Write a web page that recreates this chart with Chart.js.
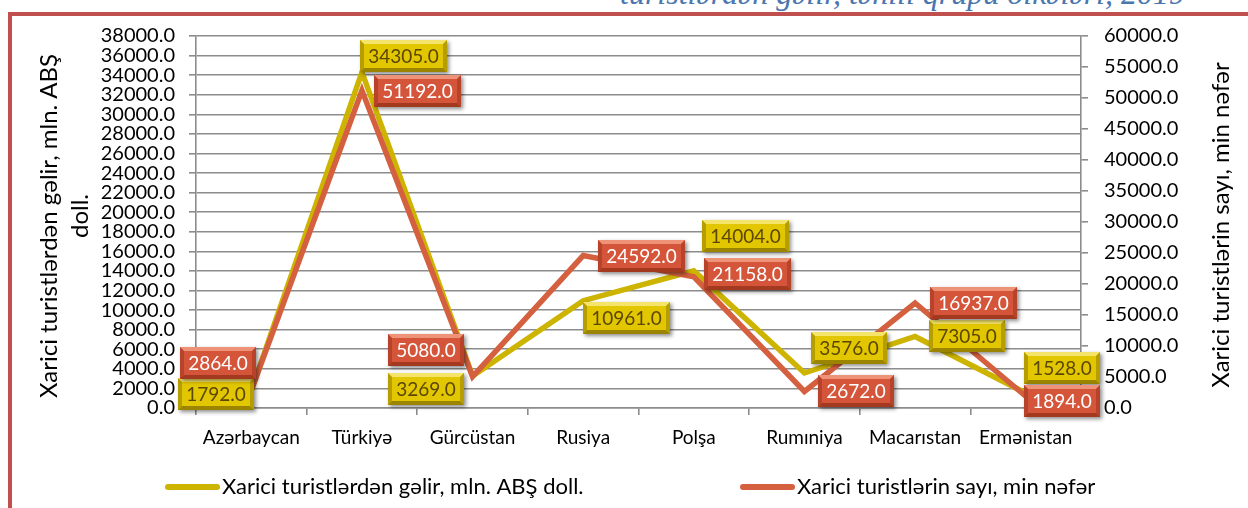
<!DOCTYPE html>
<html>
<head>
<meta charset="utf-8">
<script src="https://cdn.jsdelivr.net/npm/chart.js@4.4.0/dist/chart.umd.min.js"></script>
<style>
    html, body { margin: 0; padding: 0; background: #fff; }
    body { width: 1248px; height: 508px; position: relative; overflow: hidden; }
    .header {
        position: absolute; right: 63px; top: -23px;
        font: italic 32px "Liberation Serif", serif; line-height: 1;
        color: #4a76b0; white-space: nowrap;
    }
    .frame {
        position: absolute; left: 8px; top: 12px; right: -10px; bottom: -10px;
        border-left: 4px solid #c0504d; border-top: 4px solid #c0504d;
    }
    #chart { position: absolute; left: 0; top: 0; }
</style>
</head>
<body>
<div class="header">turistlərdən gəlir, təhlil qrupu ölkələri, 2019</div>
<div class="frame"></div>
<canvas id="chart" width="1248" height="508"></canvas>
<script>
const categories = ['Azərbaycan', 'Türkiyə', 'Gürcüstan', 'Rusiya', 'Polşa', 'Rumıniya', 'Macarıstan', 'Ermənistan'];
const revenue = [1792.0, 34305.0, 3269.0, 10961.0, 14004.0, 3576.0, 7305.0, 1528.0];
const tourists = [2864.0, 51192.0, 5080.0, 24592.0, 21158.0, 2672.0, 16937.0, 1894.0];
const revenueLabel = 'Xarici turistlərdən gəlir, mln. ABŞ doll.';
const touristsLabel = 'Xarici turistlərin sayı, min nəfər';
const leftTitle = ['Xarici turistlərdən gəlir, mln. ABŞ', 'doll.'];
const rightTitle = 'Xarici turistlərin sayı, min nəfər';
const leftMax = 38000, leftStep = 2000;
const rightMax = 60000, rightStep = 5000;

// where each value box sits, relative to its point
const revenueOffsets = [[-35, 4], [42, -16], [-47, 13], [43, 17], [52, -35], [45, -25], [52, 0], [36, -25]];
const touristOffsets = [[-33, -27], [56, 0], [-47, -27], [58, 0], [54, -3], [52, 0], [58, 0], [36, 5]];

const YELLOW = '#ccb400';
const RED = '#d5603f';
const GRID = '#8c8c8c';
const FONT = 'Lato, "Open Sans", sans-serif';

const labelStyles = [
    { offsets: revenueOffsets, face: '#e2c600', light: '#f4e46a', dark: '#9a8400', text: '#5b4700' },
    { offsets: touristOffsets, face: '#d4553a', light: '#ee9278', dark: '#a3391f', text: '#ffffff' }
];

const boxLabels = {
    id: 'boxLabels',
    afterDatasetsDraw(chart) {
        const ctx = chart.ctx;
        chart.data.datasets.forEach((ds, di) => {
            const meta = chart.getDatasetMeta(di);
            const st = labelStyles[di];
            meta.data.forEach((pt, i) => {
                const txt = ds.data[i].toFixed(1);
                ctx.save();
                ctx.font = '19px ' + FONT;
                const w = Math.round(ctx.measureText(txt).width + 16);
                const h = 32;
                const cx = pt.x + st.offsets[i][0];
                const cy = pt.y + st.offsets[i][1];
                const x = Math.round(cx - w / 2), y = Math.round(cy - h / 2);

                ctx.shadowColor = 'rgba(0,0,0,0.45)';
                ctx.shadowBlur = 4;
                ctx.shadowOffsetX = 2;
                ctx.shadowOffsetY = 2;
                ctx.fillStyle = st.face;
                ctx.fillRect(x, y, w, h);
                ctx.shadowColor = 'transparent';

                // bevel edges
                ctx.fillStyle = st.light;
                ctx.beginPath();
                ctx.moveTo(x, y); ctx.lineTo(x + w, y); ctx.lineTo(x + w - 4, y + 4); ctx.lineTo(x + 4, y + 4);
                ctx.closePath(); ctx.fill();
                ctx.fillStyle = st.dark;
                ctx.beginPath();
                ctx.moveTo(x, y + h); ctx.lineTo(x + w, y + h); ctx.lineTo(x + w - 4, y + h - 4); ctx.lineTo(x + 4, y + h - 4);
                ctx.closePath(); ctx.fill();
                ctx.globalAlpha = 0.6;
                ctx.beginPath();
                ctx.moveTo(x + w, y); ctx.lineTo(x + w, y + h); ctx.lineTo(x + w - 4, y + h - 4); ctx.lineTo(x + w - 4, y + 4);
                ctx.closePath(); ctx.fill();
                ctx.beginPath();
                ctx.moveTo(x, y); ctx.lineTo(x, y + h); ctx.lineTo(x + 4, y + h - 4); ctx.lineTo(x + 4, y + 4);
                ctx.closePath(); ctx.fill();
                ctx.globalAlpha = 1;

                ctx.fillStyle = st.text;
                ctx.textAlign = 'center';
                ctx.textBaseline = 'middle';
                ctx.fillText(txt, x + w / 2, y + h / 2 + 1);
                ctx.restore();
            });
        });
    }
};

const extras = {
    id: 'extras',
    afterDraw(chart) {
        const ctx = chart.ctx;
        const area = chart.chartArea;
        const mid = (area.top + area.bottom) / 2;
        ctx.save();
        ctx.fillStyle = '#000';
        ctx.textAlign = 'center';
        ctx.textBaseline = 'middle';
        ctx.font = '24px ' + FONT;

        // axis titles, reading bottom to top
        ctx.save();
        ctx.translate(49, mid + 4);
        ctx.rotate(-Math.PI / 2);
        ctx.fillText(leftTitle[0], 0, 0);
        ctx.restore();
        ctx.save();
        ctx.translate(80, mid - 6);
        ctx.rotate(-Math.PI / 2);
        ctx.fillText(leftTitle[1], 0, 0);
        ctx.restore();
        ctx.save();
        ctx.translate(1221, mid + 3);
        ctx.rotate(-Math.PI / 2);
        ctx.fillText(rightTitle, 0, 0);
        ctx.restore();

        // legend
        ctx.font = '22px ' + FONT;
        ctx.textAlign = 'left';
        const items = [[165, 0], [740, 1]];
        items.forEach(([lx, di]) => {
            const ds = chart.data.datasets[di];
            ctx.strokeStyle = ds.borderColor;
            ctx.lineWidth = 6;
            ctx.lineCap = 'round';
            ctx.beginPath();
            ctx.moveTo(lx + 3, 487);
            ctx.lineTo(lx + 52, 487);
            ctx.stroke();
            ctx.fillText(ds.label, lx + 57, 487);
        });
        ctx.restore();
    }
};

new Chart(document.getElementById('chart').getContext('2d'), {
    type: 'line',
    data: {
        labels: categories,
        datasets: [{
            label: revenueLabel,
            data: revenue,
            yAxisID: 'y',
            borderColor: YELLOW,
            backgroundColor: YELLOW,
            borderWidth: 5.5,
            pointRadius: 0,
            tension: 0,
            order: 1
        }, {
            label: touristsLabel,
            data: tourists,
            yAxisID: 'y1',
            borderColor: RED,
            backgroundColor: RED,
            borderWidth: 5.5,
            pointRadius: 0,
            tension: 0,
            order: 0
        }]
    },
    options: {
        responsive: false,
        animation: false,
        devicePixelRatio: 1,
        layout: { padding: { top: 36, left: 0, right: 0, bottom: 0 } },
        plugins: {
            legend: { display: false },
            tooltip: { enabled: false }
        },
        scales: {
            x: {
                offset: true,
                grid: { drawOnChartArea: false, drawTicks: true, tickLength: 7, color: GRID, lineWidth: 1.6, offset: true },
                border: { color: GRID, width: 1.6 },
                ticks: { color: '#000', font: { family: FONT, size: 19 }, padding: 11, maxRotation: 0, autoSkip: false },
                afterFit(s) { s.height = 100; }
            },
            y: {
                position: 'left',
                min: 0,
                max: leftMax,
                ticks: {
                    stepSize: leftStep, autoSkip: false, color: '#000', padding: 14,
                    font: { family: FONT, size: 20 },
                    callback: v => v.toFixed(1)
                },
                grid: { color: GRID, lineWidth: 1.6, tickLength: 7 },
                border: { color: GRID, width: 1.6 },
                afterFit(s) { s.width = 196; }
            },
            y1: {
                position: 'right',
                min: 0,
                max: rightMax,
                ticks: {
                    stepSize: rightStep, autoSkip: false, color: '#000', padding: 16,
                    font: { family: FONT, size: 20 },
                    callback: v => v.toFixed(1)
                },
                grid: { drawOnChartArea: false, color: GRID, lineWidth: 1.6, tickLength: 7 },
                border: { color: GRID, width: 1.6 },
                afterFit(s) { s.width = 167; }
            }
        }
    },
    plugins: [boxLabels, extras]
});
</script>
</body>
</html>
